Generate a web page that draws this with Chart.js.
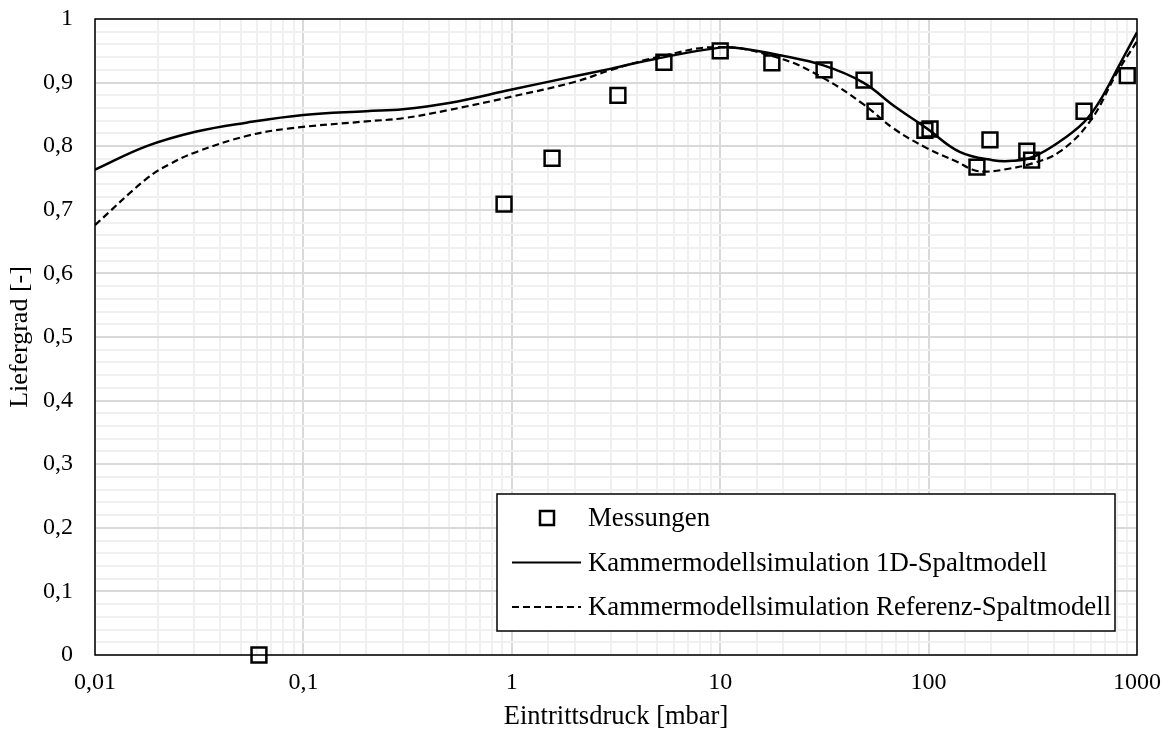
<!DOCTYPE html>
<html>
<head>
<meta charset="utf-8">
<script src="https://cdn.jsdelivr.net/npm/chart.js@4"></script>
<style>
  html, body { margin: 0; padding: 0; background: #fff; }
</style>
</head>
<body>
<canvas id="liefergrad" width="1170" height="733"></canvas>
<script>
// Messungen
const messDruck = [0.0612, 0.918, 1.56, 3.23, 5.37, 10, 17.7, 31.5, 49, 55.3, 96, 101.6, 170.6, 197, 296, 312, 557, 898];
const messLiefergrad = [0, 0.709, 0.781, 0.880, 0.932, 0.950, 0.931, 0.920, 0.904, 0.855, 0.825, 0.827, 0.767, 0.810, 0.792, 0.778, 0.855, 0.911];

// Kammermodellsimulation 1D-Spaltmodell
const druck1D = [0.01, 0.0177, 0.0307, 0.0533, 0.1, 0.2, 0.3, 0.5, 1, 2, 3, 5, 10, 12.5, 19.4, 31.3, 48.6, 67.8, 98, 141, 203, 254, 316, 424, 557, 660, 830, 1000];
const liefergrad1D = [0.763, 0.800, 0.823, 0.837, 0.849, 0.855, 0.858, 0.868, 0.889, 0.910, 0.922, 0.938, 0.955, 0.954, 0.943, 0.927, 0.900, 0.864, 0.828, 0.791, 0.778, 0.777, 0.783, 0.807, 0.838, 0.870, 0.930, 0.979];

// Kammermodellsimulation Referenz-Spaltmodell
const druckRef = [0.01, 0.0177, 0.0229, 0.0307, 0.0533, 0.086, 0.2, 0.3, 0.5, 1, 2, 3, 5, 10, 19.4, 31.3, 48.6, 67.8, 98, 136, 163, 190, 246, 315, 424, 595, 800, 1000];
const liefergradRef = [0.676, 0.749, 0.772, 0.791, 0.816, 0.828, 0.839, 0.844, 0.857, 0.878, 0.901, 0.920, 0.940, 0.956, 0.938, 0.907, 0.866, 0.828, 0.797, 0.776, 0.763, 0.760, 0.765, 0.773, 0.791, 0.839, 0.915, 0.965];

const xLabels = [0.01, 0.1, 1, 10, 100, 1000];
const yLabelStep = 0.1;

const serif = "'Liberation Serif', 'Times New Roman', serif";

function toPoints(xs, ys) {
  return xs.map((x, i) => ({ x: x, y: ys[i] }));
}

function isDecade(v) {
  const l = Math.log10(v);
  return Math.abs(l - Math.round(l)) < 1e-6;
}

function isYLabel(v) {
  const n = v / yLabelStep;
  return Math.abs(n - Math.round(n)) < 1e-6;
}

function deZahl(v) {
  return String(parseFloat(v.toPrecision(6))).replace(".", ",");
}

Chart.defaults.font.family = serif;
Chart.defaults.font.size = 24;
Chart.defaults.color = "#000";

// Rahmen um den Plotbereich
const plotFrame = {
  id: "plotFrame",
  beforeDatasetsDraw(chart) {
    const a = chart.chartArea;
    const ctx = chart.ctx;
    ctx.save();
    ctx.strokeStyle = "#000";
    ctx.lineWidth = 1.5;
    ctx.strokeRect(a.left, a.top, a.right - a.left, a.bottom - a.top);
    ctx.restore();
  },
};

// Legende im Diagramm unten rechts
const legendBox = {
  id: "legendBox",
  afterDraw(chart) {
    const a = chart.chartArea;
    const ctx = chart.ctx;
    const w = 618, h = 137;
    const x = a.right - 22 - w;
    const y = a.bottom - 24 - h;
    ctx.save();
    ctx.fillStyle = "#fff";
    ctx.fillRect(x, y, w, h);
    ctx.strokeStyle = "#000";
    ctx.lineWidth = 1.5;
    ctx.strokeRect(x, y, w, h);
    ctx.font = "26.8px " + serif;
    ctx.textBaseline = "middle";
    ctx.fillStyle = "#000";
    chart.data.datasets.forEach((ds, i) => {
      const cy = y + 24 + i * 44.5;
      ctx.strokeStyle = "#000";
      if (ds.showLine === false) {
        ctx.lineWidth = 2.5;
        ctx.setLineDash([]);
        ctx.strokeRect(x + 43, cy - 7, 14, 14);
      } else {
        ctx.lineWidth = 2;
        ctx.setLineDash(ds.borderDash || []);
        ctx.beginPath();
        ctx.moveTo(x + 15, cy);
        ctx.lineTo(x + 84, cy);
        ctx.stroke();
        ctx.setLineDash([]);
      }
      ctx.fillText(ds.label, x + 91, cy + 1);
    });
    ctx.restore();
  },
};

new Chart(document.getElementById("liefergrad"), {
  type: "line",
  data: {
    datasets: [
      {
        label: "Messungen",
        data: toPoints(messDruck, messLiefergrad),
        showLine: false,
        pointStyle: "rect",
        pointRadius: 10.5,
        pointBorderWidth: 2.5,
        pointBorderColor: "#000",
        pointBackgroundColor: "rgba(0,0,0,0)",
        clip: false,
      },
      {
        label: "Kammermodellsimulation 1D-Spaltmodell",
        data: toPoints(druck1D, liefergrad1D),
        borderColor: "#000",
        borderWidth: 2.5,
        pointRadius: 0,
        tension: 0.4,
      },
      {
        label: "Kammermodellsimulation Referenz-Spaltmodell",
        data: toPoints(druckRef, liefergradRef),
        borderColor: "#000",
        borderWidth: 2.2,
        borderDash: [7, 4],
        pointRadius: 0,
        tension: 0.4,
      },
    ],
  },
  options: {
    responsive: false,
    animation: false,
    devicePixelRatio: 1,
    layout: { padding: { left: 5, right: 33, top: 19, bottom: 0 } },
    plugins: {
      legend: { display: false },
      tooltip: { enabled: false },
    },
    scales: {
      x: {
        type: "logarithmic",
        min: 0.01,
        max: 1000,
        border: { display: false },
        grid: {
          drawTicks: false,
          lineWidth: 2,
          color: (ctx) => (ctx.tick && isDecade(ctx.tick.value) ? "#d9d9d9" : "#f0f0f0"),
        },
        ticks: {
          autoSkip: false,
          maxRotation: 0,
          padding: 13,
          callback: (v) => (xLabels.some((l) => Math.abs(l - v) / l < 1e-6) ? deZahl(v) : ""),
        },
        title: { display: true, text: "Eintrittsdruck [mbar]", padding: 0, font: { size: 26.5 } },
        afterFit: (scale) => {
          scale.height = 78;
          scale.paddingLeft = 0;
          scale.paddingRight = 0;
        },
      },
      y: {
        type: "linear",
        min: 0,
        max: 1,
        border: { display: false },
        grid: {
          drawTicks: false,
          lineWidth: 2,
          color: (ctx) => (ctx.tick && isYLabel(ctx.tick.value) ? "#d9d9d9" : "#f0f0f0"),
        },
        ticks: {
          stepSize: 0.02,
          autoSkip: false,
          padding: 22,
          callback: (v) => (isYLabel(v) ? deZahl(v) : ""),
        },
        title: { display: true, text: "Liefergrad [-]", padding: 0, font: { size: 26 } },
        afterFit: (scale) => {
          scale.width = 90;
          scale.paddingTop = 0;
          scale.paddingBottom = 0;
        },
      },
    },
  },
  plugins: [plotFrame, legendBox],
});
</script>
</body>
</html>
